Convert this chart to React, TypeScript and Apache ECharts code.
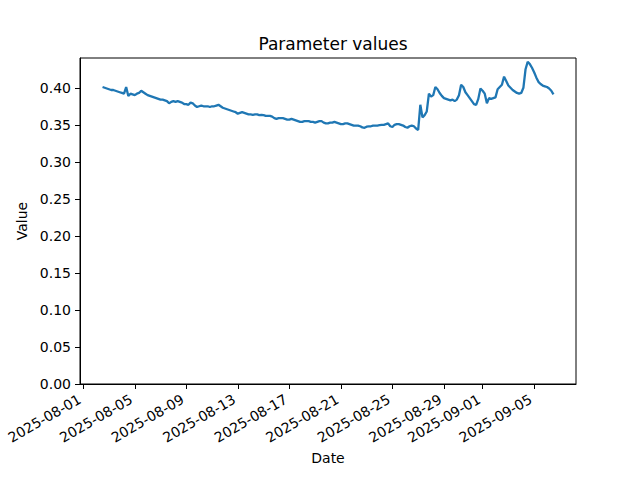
import React, { useEffect, useRef } from "react";
import * as echarts from "echarts";

// Sampling: every 4 hours, starting 2025-08-02 12:00 (UTC)
const SERIES_START = "2025-08-02T12:00:00Z";
const STEP_HOURS = 4;

// Parameter values (one row = one day, 6 samples)
const values: number[] = [
  0.401, 0.4, 0.399, 0.398, 0.397, 0.397,
  0.396, 0.395, 0.394, 0.393, 0.392, 0.401,
  0.389, 0.392, 0.391, 0.39, 0.392, 0.393,
  0.396, 0.394, 0.392, 0.39, 0.389, 0.388,
  0.387, 0.386, 0.385, 0.384, 0.384, 0.383,
  0.382, 0.379, 0.381, 0.382, 0.381, 0.382,
  0.381, 0.38, 0.378, 0.378, 0.377, 0.38,
  0.379, 0.376, 0.374, 0.375, 0.376, 0.375,
  0.375, 0.375, 0.374, 0.375, 0.375, 0.376,
  0.377, 0.375, 0.373, 0.372, 0.371, 0.37,
  0.369, 0.368, 0.367, 0.365, 0.366, 0.367,
  0.366, 0.365, 0.364, 0.364, 0.3635, 0.364,
  0.364, 0.363, 0.3635, 0.363, 0.362, 0.362,
  0.362, 0.361, 0.359, 0.358, 0.359, 0.359,
  0.359, 0.358, 0.357, 0.357, 0.358, 0.357,
  0.356, 0.355, 0.354, 0.354, 0.355, 0.355,
  0.355, 0.354, 0.354, 0.353, 0.354, 0.355,
  0.355, 0.353, 0.352, 0.352, 0.353, 0.353,
  0.354, 0.353, 0.352, 0.351, 0.351, 0.352,
  0.352, 0.351, 0.35, 0.349, 0.349, 0.349,
  0.348, 0.3465, 0.346, 0.3475, 0.348, 0.348,
  0.349, 0.349, 0.349, 0.3495, 0.35, 0.35,
  0.351, 0.352, 0.348, 0.347, 0.35, 0.351,
  0.351, 0.35, 0.349, 0.347, 0.346, 0.348,
  0.349, 0.348, 0.345, 0.343, 0.377, 0.36,
  0.363, 0.368, 0.392, 0.388, 0.39, 0.401,
  0.398, 0.393, 0.389, 0.386, 0.385, 0.384,
  0.383, 0.384, 0.382, 0.384, 0.39, 0.404,
  0.401, 0.394, 0.39, 0.386, 0.382, 0.378,
  0.377, 0.385, 0.399, 0.396, 0.392, 0.379,
  0.386, 0.385, 0.386, 0.387, 0.398, 0.401,
  0.404, 0.415, 0.409, 0.403, 0.4, 0.397,
  0.395, 0.393, 0.392, 0.393, 0.4, 0.425,
  0.435, 0.432, 0.427, 0.421, 0.414, 0.408,
  0.405, 0.403, 0.402, 0.401, 0.399, 0.396,
  0.391,
];

const xTickLabels: string[] = [
  "2025-08-01", "2025-08-05", "2025-08-09", "2025-08-13", "2025-08-17",
  "2025-08-21", "2025-08-25", "2025-08-29", "2025-09-01", "2025-09-05",
];
const yTicks: number[] = [0, 0.05, 0.1, 0.15, 0.2, 0.25, 0.3, 0.35, 0.4];

const X_MIN = "2025-07-31T18:00:00Z";
const X_MAX = "2025-09-08T06:00:00Z";
const Y_MAX = 0.4402;

const FONT = "DejaVu Sans";

function fmtDate(v: number): string {
  const d = new Date(v);
  const p = (n: number) => (n < 10 ? "0" + n : "" + n);
  return `${d.getUTCFullYear()}-${p(d.getUTCMonth() + 1)}-${p(d.getUTCDate())}`;
}

export default function App() {
  const ref = useRef<HTMLDivElement>(null);

  useEffect(() => {
    document.body.style.margin = "0";
    if (!ref.current) return;
    const chart = echarts.init(ref.current, undefined, { renderer: "svg" });
    const t0 = Date.parse(SERIES_START);
    const data = values.map((v, i) => [t0 + i * STEP_HOURS * 3600 * 1000, v]);
    const xTickValues = xTickLabels.map((s) => Date.parse(s + "T00:00:00Z"));

    chart.setOption({
      animation: false,
      backgroundColor: "#ffffff",
      textStyle: { fontFamily: FONT },
      title: {
        text: "Parameter values",
        left: 328,
        top: 30,
        textAlign: "center",
        textStyle: { fontFamily: FONT, fontSize: 17, fontWeight: "normal", color: "#000" },
      },
      grid: {
        left: 80,
        right: 64,
        top: 58,
        bottom: 96,
        containLabel: false,
        outerBoundsMode: "none",
        show: true,
        borderColor: "#000",
        borderWidth: 1,
        backgroundColor: "transparent",
      },
      xAxis: {
        type: "value",
        min: Date.parse(X_MIN),
        max: Date.parse(X_MAX),
        scale: true,
        name: "Date",
        nameLocation: "middle",
        nameGap: 65,
        nameTextStyle: { fontFamily: FONT, fontSize: 14, color: "#000" },
        axisLine: { show: true, onZero: false, lineStyle: { color: "#000", width: 1 } },
        axisTick: {
          show: true,
          length: 5,
          lineStyle: { color: "#000", width: 1 },
          customValues: xTickValues,
        },
        axisLabel: {
          customValues: xTickValues,
          rotate: 30,
          margin: 20,
          verticalAlign: "bottom",
          fontFamily: FONT,
          fontSize: 14,
          color: "#000",
          hideOverlap: false,
          formatter: (v: number) => fmtDate(v),
        },
        splitLine: { show: false },
      },
      yAxis: {
        type: "value",
        min: 0,
        max: Y_MAX,
        name: "Value",
        nameLocation: "middle",
        nameGap: 41,
        nameRotate: 90,
        nameTextStyle: { fontFamily: FONT, fontSize: 14, color: "#000" },
        axisLine: { show: true, lineStyle: { color: "#000", width: 1 } },
        axisTick: {
          show: true,
          length: 5,
          lineStyle: { color: "#000", width: 1 },
          customValues: yTicks,
        },
        axisLabel: {
          customValues: yTicks,
          margin: 9,
          fontFamily: FONT,
          fontSize: 14,
          color: "#000",
          formatter: (v: number) => v.toFixed(2),
        },
        splitLine: { show: false },
      },
      series: [
        {
          type: "line",
          data,
          showSymbol: false,
          lineStyle: { color: "#1f77b4", width: 2.3 },
          itemStyle: { color: "#1f77b4" },
        },
      ],
    });

    return () => chart.dispose();
  }, []);

  return <div ref={ref} style={{ width: 640, height: 480 }} />;
}
